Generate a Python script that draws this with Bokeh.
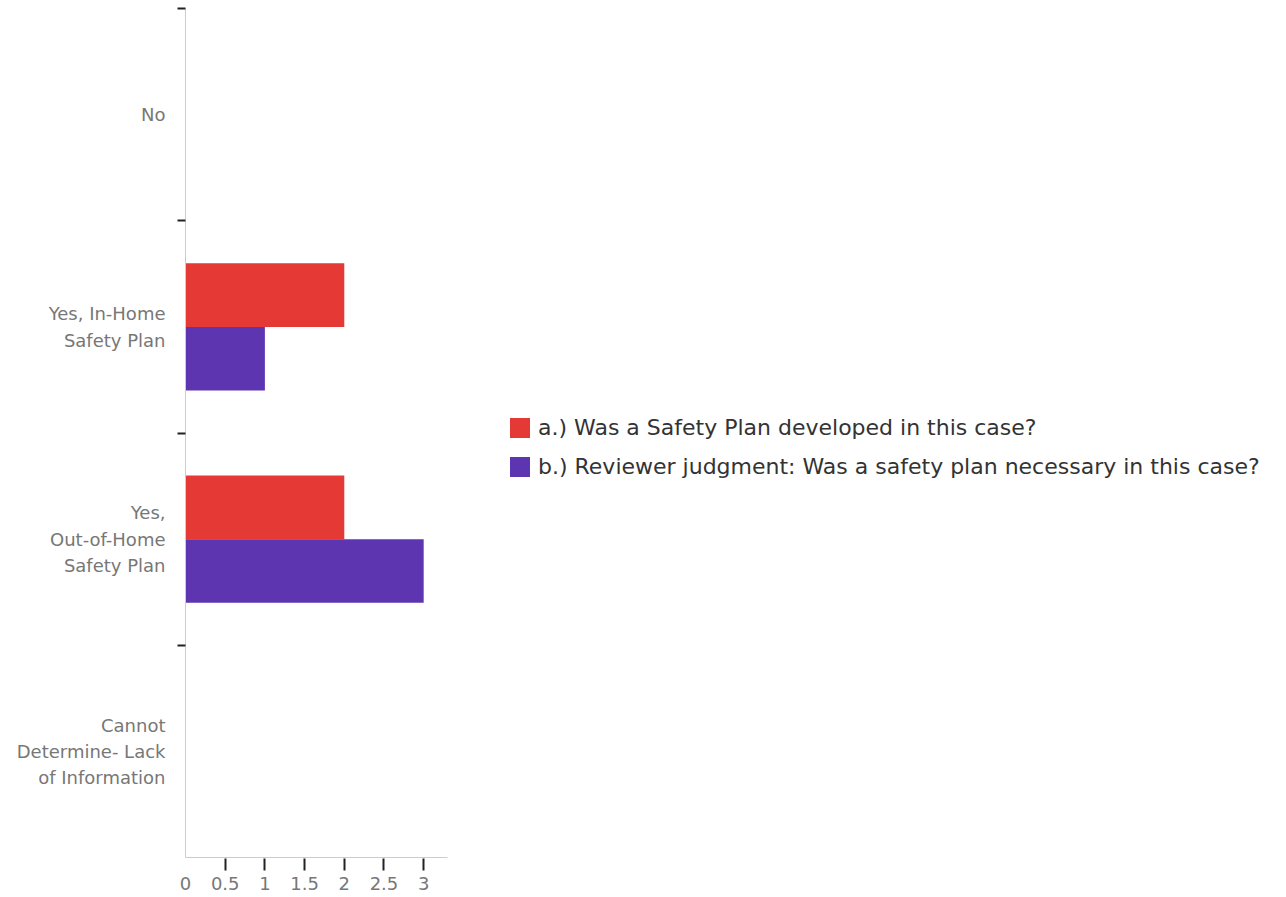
from bokeh.plotting import figure
from bokeh.models import Range1d, FixedTicker, Legend, LegendItem, ColumnDataSource
from bokeh.embed import file_html
from bokeh.resources import INLINE

categories = ["No", "Yes, In-Home\nSafety Plan", "Yes,\nOut-of-Home\nSafety Plan",
              "Cannot\nDetermine- Lack\nof Information"]
series_a_name = "a.) Was a Safety Plan developed in this case?"
series_b_name = "b.) Reviewer judgment: Was a safety plan necessary in this case?"
series_a = [0, 2, 2, 0]
series_b = [0, 1, 3, 0]
x_ticks = [0, 0.5, 1, 1.5, 2, 2.5, 3]

RED = "#E53935"
PURPLE = "#5E35B1"
FONT = "DejaVu Sans"

n = len(categories)
centers = [i + 0.5 for i in range(n)]
bar_h = 0.3
src_a = ColumnDataSource(dict(y=[c - bar_h / 2 for c in centers], v=series_a))
src_b = ColumnDataSource(dict(y=[c + bar_h / 2 for c in centers], v=series_b))

p = figure(frame_width=262, frame_height=849, output_backend="svg", toolbar_location=None,
           x_range=Range1d(0, 3.3), y_range=Range1d(n, 0),
           min_border_left=185, min_border_top=8, min_border_bottom=30, min_border_right=831)
p.outline_line_color = None
p.grid.grid_line_color = None

ra = p.hbar(y="y", right="v", left=0, height=bar_h, source=src_a, fill_color=RED, line_color=None)
rb = p.hbar(y="y", right="v", left=0, height=bar_h, source=src_b, fill_color=PURPLE, line_color=None)

# y axis: labels at category centres, tick marks at category boundaries
ya = p.yaxis[0]
ya.ticker = FixedTicker(ticks=centers, minor_ticks=list(range(n)))
ya.major_label_overrides = {c: lab for c, lab in zip(centers, categories)}
ya.major_tick_line_color = None
ya.major_tick_out = 0
ya.major_tick_in = 0
ya.minor_tick_out = 8
ya.minor_tick_in = 0
ya.minor_tick_line_color = "#222222"
ya.minor_tick_line_width = 2
ya.axis_line_color = "#cccccc"
ya.major_label_standoff = 12
ya.major_label_text_font = FONT
ya.major_label_text_font_size = "18px"
ya.major_label_text_color = "#777777"
ya.major_label_text_line_height = 1.25

# x axis: labels at every tick, tick marks except at 0
xa = p.xaxis[0]
xa.ticker = FixedTicker(ticks=x_ticks, minor_ticks=[t for t in x_ticks if t != 0])
xa.axis_line_color = "#cccccc"
xa.major_tick_line_color = None
xa.major_tick_out = 13
xa.major_tick_in = 0
xa.minor_tick_line_color = "#222222"
xa.minor_tick_line_width = 2
xa.minor_tick_out = 13
xa.minor_tick_in = -1
xa.major_label_standoff = 6
xa.major_label_text_font = FONT
xa.major_label_text_font_size = "18px"
xa.major_label_text_color = "#777777"
xa.major_label_overrides = {0: "0", 1: "1", 2: "2", 3: "3"}

legend = Legend(items=[LegendItem(label=series_a_name, renderers=[ra]),
                       LegendItem(label=series_b_name, renderers=[rb])],
                location=(60, 378), orientation="vertical",
                glyph_width=25, glyph_height=25, label_height=25, spacing=14,
                label_standoff=6, padding=0, margin=0,
                label_text_font=FONT, label_text_font_size="22px", label_text_color="#333333",
                border_line_color=None, background_fill_alpha=0)
p.add_layout(legend, "right")

open("out.html", "w").write(file_html(p, INLINE))
